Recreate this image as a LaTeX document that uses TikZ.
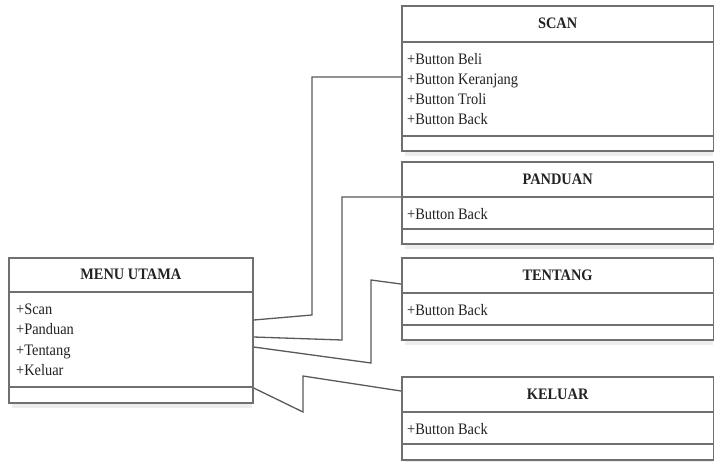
\documentclass[tikz,border=0pt]{standalone}
\usepackage{fontspec}
\setmainfont[FakeStretch=0.9]{Liberation Serif}
\definecolor{boxgray}{HTML}{707070}
\definecolor{linegray}{HTML}{5A5A5A}
\definecolor{txt}{HTML}{222222}
\definecolor{shade}{HTML}{EDEDED}
\tikzset{
  classbox/.style={draw=boxgray, line width=1.7pt, fill=white, rectangle,
    anchor=north west, inner sep=0pt},
  boxshadow/.style={fill=shade, draw=none},
  divider/.style={draw=boxgray, line width=1.7pt},
  classtitle/.style={font=\fontsize{16}{18}\selectfont\bfseries, text=txt, inner sep=0pt},
  attr/.style={font=\fontsize{16}{18}\selectfont, text=txt, inner sep=0pt, anchor=base west},
  conn/.style={draw=linegray, line width=1.3pt, line join=miter},
}
% #1 name, #2 x, #3 y, #4 width, #5 height, #6 first divider, #7 second divider, #8 title
\newcommand{\umlclass}[8]{%
  \fill[boxshadow] (#2+4,#3+6) rectangle (#2+#4,#3+#5+6);
  \node[classbox, minimum width=#4pt, minimum height=#5pt] (#1) at (#2,#3) {};
  \draw[divider] ([yshift=-#6pt]#1.north west) -- ([yshift=-#6pt]#1.north east);
  \draw[divider] ([yshift=-#7pt]#1.north west) -- ([yshift=-#7pt]#1.north east);
  \node[classtitle] (#1-title) at ([yshift=-#6pt/2]#1.north) {#8};
}
\begin{document}
\begin{tikzpicture}[x=1pt,y=-1pt]
\useasboundingbox[fill=white] (0,0) rectangle (714,461);

% classes
\umlclass{menu}{8}{257}{244}{145}{35}{130}{MENU UTAMA}
\umlclass{scan}{401}{5}{311.5}{145}{37}{131}{SCAN}
\umlclass{panduan}{401}{161}{311.5}{82}{36}{68}{PANDUAN}
\umlclass{tentang}{401}{257}{311.5}{82}{36}{68}{TENTANG}
\umlclass{keluar}{401}{376}{311.5}{83}{36}{68}{KELUAR}

% attributes
\foreach \t [count=\i from 0] in {+Scan,+Panduan,+Tentang,+Keluar}
  \node[attr] (menu-a\i) at ([xshift=8pt,yshift=-57pt-20.5pt*\i]menu.north west) {\t};
\foreach \t [count=\i from 0] in {+Button Beli,+Button Keranjang,+Button Troli,+Button Back}
  \node[attr] (scan-a\i) at ([xshift=6pt,yshift=-59pt-20.3pt*\i]scan.north west) {\t};
\node[attr] (panduan-a0) at ([xshift=6pt,yshift=-58pt]panduan.north west) {+Button Back};
\node[attr] (tentang-a0) at ([xshift=6pt,yshift=-58pt]tentang.north west) {+Button Back};
\node[attr] (keluar-a0) at ([xshift=6pt,yshift=-58pt]keluar.north west) {+Button Back};

% connectors
\draw[conn] ([yshift=-63pt]menu.north east) -- (312,315) -- (312,77)
  -- ([yshift=-72pt]scan.north west);
\draw[conn] ([yshift=-80pt]menu.north east) -- (342,340) -- (342,197)
  -- ([yshift=-36pt]panduan.north west);
\draw[conn] ([yshift=-90pt]menu.north east) -- (371,363) -- (371,280)
  -- ([yshift=-27pt]tentang.north west);
\draw[conn] ([yshift=-131pt]menu.north east) -- (303,412) -- (303,376)
  -- ([yshift=-15pt]keluar.north west);
\end{tikzpicture}
\end{document}
